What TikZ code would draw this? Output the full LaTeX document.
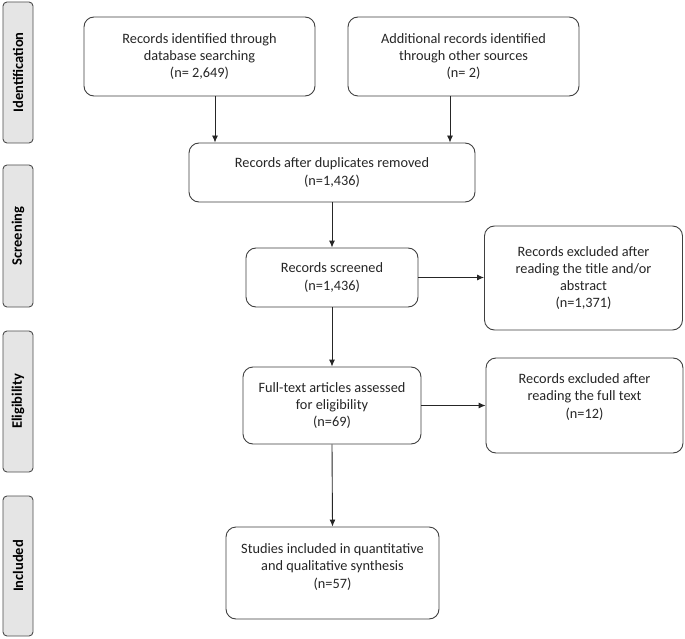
\documentclass[tikz,border=0pt]{standalone}
\usepackage{fontspec}
\setmainfont{Carlito}
\usetikzlibrary{arrows.meta}
\begin{document}
\begin{tikzpicture}[x=1pt,y=-1pt,
  box/.style={draw=black!75, line width=0.9pt, rounded corners=10pt, align=center,
    font=\fontsize{14.3}{17.3}\selectfont, text=black!85, inner sep=2pt},
  phase/.style={draw=black!70, line width=0.9pt, fill=black!10, rounded corners=4pt,
    inner sep=0pt, rotate=90,
    font=\fontsize{14.5}{16}\selectfont\bfseries},
  arr/.style={-{Latex[length=7pt,width=6pt]}, line width=0.9pt, draw=black!85}]
\fill[white] (0,0) rectangle (685,639);
\useasboundingbox (0,0) rectangle (685,639);
% phase bars
\node[phase, minimum width=141pt, minimum height=30pt] (pid) at (18,72.5) {Identification};
\node[phase, minimum width=142pt, minimum height=30pt] (psc) at (18,236) {Screening};
\node[phase, minimum width=141pt, minimum height=30pt] (pel) at (18,401.5) {Eligibility};
\node[phase, minimum width=140pt, minimum height=30pt] (pin) at (18,566) {Included};
% boxes
\node[box, minimum width=231pt, minimum height=79pt] (b1) at (199.5,56.5)
  {Records identified through\\database searching\\(n= 2,649)};
\node[box, minimum width=231pt, minimum height=79pt] (b2) at (463.5,56.5)
  {Additional records identified\\through other sources\\(n= 2)};
\node[box, minimum width=286pt, minimum height=59pt] (b3) at (332,172.5)
  {Records after duplicates removed\\(n=1,436)};
\node[box, minimum width=172pt, minimum height=59pt] (b4) at (332,277.5)
  {Records screened\\(n=1,436)};
\node[box, minimum width=198pt, minimum height=104pt] (b5) at (583.5,278)
  {Records excluded after\\reading the title and/or\\abstract\\(n=1,371)};
\node[box, minimum width=178pt, minimum height=77pt] (b6) at (332,405.5)
  {Full-text articles assessed\\for eligibility\\(n=69)};
\node[box, minimum width=197pt, minimum height=95pt] (b7) at (584.5,405.5)
  {Records excluded after\\reading the full text\\(n=12)\\[-3pt]\strut};
\node[box, minimum width=213pt, minimum height=92pt] (b8) at (332.5,573)
  {Studies included in quantitative\\and qualitative synthesis\\(n=57)\\[-8pt]\strut};
% connectors
\coordinate (c1) at (215,0);
\coordinate (c2) at (450,0);
\draw[arr] (c1 |- b1.south) -- (c1 |- b3.north);
\draw[arr] (c2 |- b2.south) -- (c2 |- b3.north);
\draw[arr] (b3.south) -- (b4.north);
\draw[arr] (b4.east) -- (b4.east -| b5.west);
\draw[arr] (b4.south) -- (b6.north);
\draw[arr] (b6.east) -- (b6.east -| b7.west);
\draw[arr] (b6.south) -- (b8.north);
\end{tikzpicture}
\end{document}
